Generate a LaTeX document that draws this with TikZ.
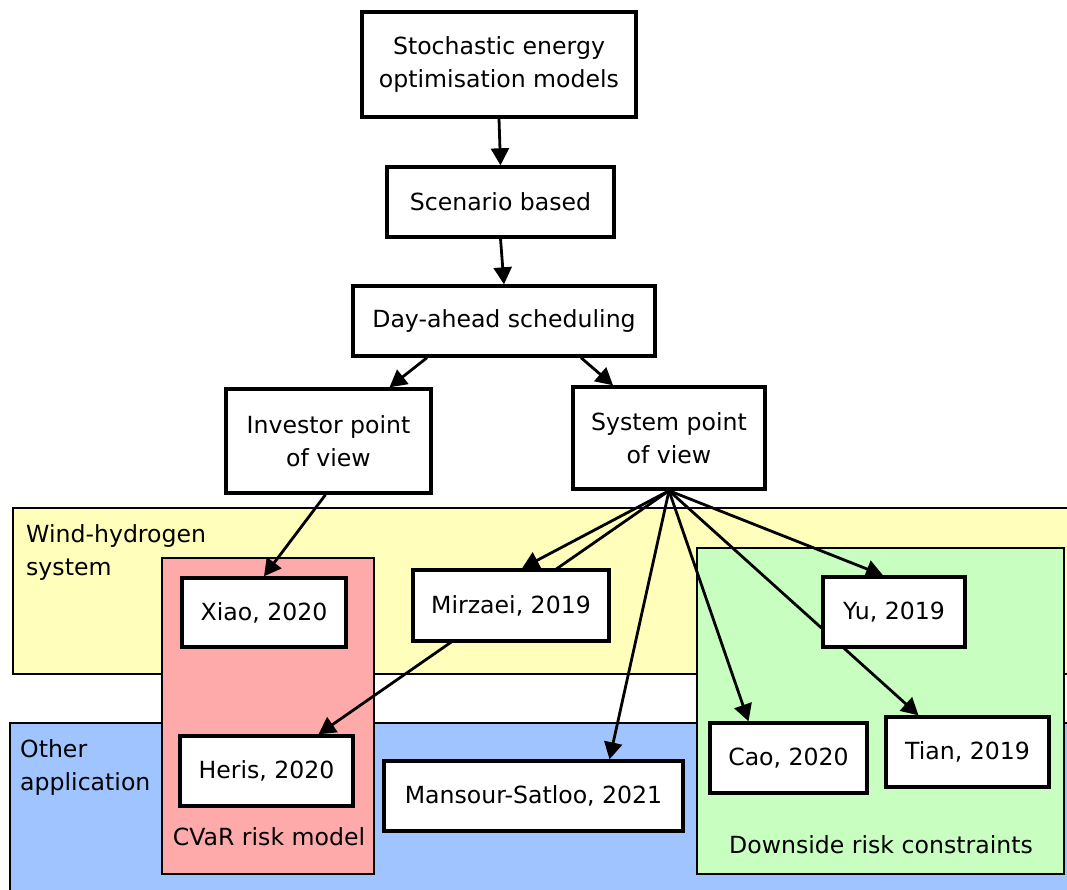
\documentclass[tikz,border=0pt]{standalone}
\usepackage{fontspec}
\setmainfont{DejaVu Sans}
\usetikzlibrary{arrows.meta}
\definecolor{cyellow}{HTML}{FFFFBB}
\definecolor{cblue}{HTML}{A0C4FF}
\definecolor{cred}{HTML}{FFAAAA}
\definecolor{cgreen}{HTML}{C8FFC0}
\pgfdeclarelayer{back}
\pgfdeclarelayer{mid}
\pgfsetlayers{back,mid,main}
\tikzset{
  every picture/.style={x=1pt, y=-1pt, font=\fontsize{23.6}{33}\selectfont},
  box/.style={draw, fill=white, line width=3.4pt, align=center, inner sep=0pt},
  dim/.style 2 args={minimum width=#1, minimum height=#2},
  band/.style={draw, fill=#1, line width=2.6pt},
  arrow/.style={-{Triangle[length=17pt, width=18pt]}, line width=2.8pt},
  grouplabel/.style={align=left, anchor=north west, inner sep=0pt},
}

\begin{document}
\begin{tikzpicture}
  \useasboundingbox (0,0) rectangle (1067,890);
  % main chain
  \node[box, dim={274}{105}] (stoch) at (499,64.5) {Stochastic energy\\optimisation models};
  \node[box, dim={227}{70}] (scen) at (500.5,202) {Scenario based};
  \node[box, dim={302}{70}] (dayahead) at (504,321) {Day-ahead scheduling};
  \node[box, dim={205}{104}] (investor) at (328.5,441) {Investor point\\of view};
  \node[box, dim={192}{102}] (system) at (669,438) {System point\\of view};
  % studies
  \node[box, dim={164}{69}] (xiao) at (264,612.5) {Xiao, 2020};
  \node[box, dim={173}{70}] (heris) at (266.5,771) {Heris, 2020};
  \node[box, dim={196}{71}] (mirzaei) at (511,605.5) {Mirzaei, 2019};
  \node[box, dim={299}{70}] (mansour) at (533.5,796) {Mansour-Satloo, 2021};
  \node[box, dim={142}{70}] (yu) at (894,612) {Yu, 2019};
  \node[box, dim={157}{70}] (cao) at (788.5,758) {Cao, 2020};
  \node[box, dim={163}{70}] (tian) at (967.5,752) {Tian, 2019};

  \begin{pgfonlayer}{mid}
    \draw[arrow] (stoch.south) -- (scen.north);
    \draw[arrow] (scen.south) -- (dayahead.north);
    \draw[arrow] ([xshift=-77pt]dayahead.south) -- ([xshift=61pt]investor.north);
    \draw[arrow] ([xshift=77pt]dayahead.south) -- ([xshift=-56pt]system.north);
    \draw[arrow] ([xshift=-3pt]investor.south) -- (xiao.north);
    % fan out of the system view
    \draw[arrow] (system.south) -- ([xshift=11pt]mirzaei.north);
    \draw[arrow] (system.south) -- ([xshift=52pt]heris.north);
    \draw[arrow] (system.south) -- ([xshift=76pt]mansour.north);
    \draw[arrow] (system.south) -- ([xshift=-40pt]cao.north);
    \draw[arrow] (system.south) -- ([xshift=-49pt]tian.north);
    \draw[arrow] (system.south) -- ([xshift=-11pt]yu.north);
  \end{pgfonlayer}

  \begin{pgfonlayer}{back}
    \clip (0,0) rectangle (1067,890);
    \draw[band=cyellow] (13,508) rectangle (1090,674);
    \draw[band=cblue] (10,723) rectangle (1090,910);
    \draw[band=cred] (162,558) rectangle (374,874);
    \draw[band=cgreen] (697,548) rectangle (1064,874);
    \node[grouplabel] (windlbl) at (26,524) {Wind-hydrogen\\system};
    \node[grouplabel] (otherlbl) at (20,739) {Other\\application};
    \node[anchor=base] (cvarlbl) at (269,845) {CVaR risk model};
    \node[anchor=base] (downlbl) at (881,853) {Downside risk constraints};
  \end{pgfonlayer}
\end{tikzpicture}
\end{document}
